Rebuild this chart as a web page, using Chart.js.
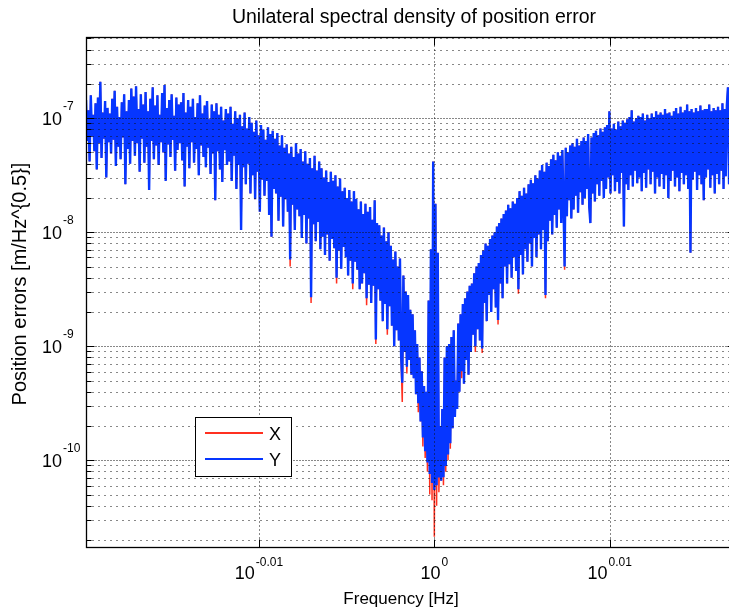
<!DOCTYPE html>
<html>
<head>
<meta charset="utf-8">
<title>Unilateral spectral density of position error</title>
<script src="https://cdn.jsdelivr.net/npm/chart.js@4.4.1/dist/chart.umd.min.js"></script>
<style>
    html, body { margin: 0; padding: 0; background: #fff; overflow: hidden; }
    #psd-chart { display: block; }
</style>
</head>
<body>
<canvas id="psd-chart" width="736" height="612"></canvas>
<script>
/* ── Spectrum bins [Hz] ── */
var freqHz = [
    0.95530, 0.95545, 0.95560, 0.95575, 0.95590, 0.95605, 0.95620, 0.95635, 0.95650, 0.95665,
    0.95680, 0.95695, 0.95710, 0.95725, 0.95740, 0.95755, 0.95770, 0.95785, 0.95800, 0.95815,
    0.95830, 0.95845, 0.95860, 0.95875, 0.95890, 0.95905, 0.95920, 0.95935, 0.95950, 0.95965,
    0.95980, 0.95995, 0.96010, 0.96025, 0.96040, 0.96055, 0.96070, 0.96085, 0.96100, 0.96115,
    0.96130, 0.96145, 0.96160, 0.96175, 0.96190, 0.96205, 0.96220, 0.96235, 0.96250, 0.96265,
    0.96280, 0.96295, 0.96310, 0.96325, 0.96340, 0.96355, 0.96370, 0.96385, 0.96400, 0.96415,
    0.96430, 0.96445, 0.96460, 0.96475, 0.96490, 0.96505, 0.96520, 0.96535, 0.96550, 0.96565,
    0.96580, 0.96595, 0.96610, 0.96625, 0.96640, 0.96655, 0.96670, 0.96685, 0.96700, 0.96715,
    0.96730, 0.96745, 0.96760, 0.96775, 0.96790, 0.96805, 0.96820, 0.96835, 0.96850, 0.96865,
    0.96880, 0.96895, 0.96910, 0.96925, 0.96940, 0.96955, 0.96970, 0.96985, 0.97000, 0.97015,
    0.97030, 0.97045, 0.97060, 0.97075, 0.97090, 0.97105, 0.97120, 0.97135, 0.97150, 0.97165,
    0.97180, 0.97195, 0.97210, 0.97225, 0.97240, 0.97255, 0.97270, 0.97285, 0.97300, 0.97315,
    0.97330, 0.97345, 0.97360, 0.97375, 0.97390, 0.97405, 0.97420, 0.97435, 0.97450, 0.97465,
    0.97480, 0.97495, 0.97510, 0.97525, 0.97540, 0.97555, 0.97570, 0.97585, 0.97600, 0.97615,
    0.97630, 0.97645, 0.97660, 0.97675, 0.97690, 0.97705, 0.97720, 0.97735, 0.97750, 0.97765,
    0.97780, 0.97795, 0.97810, 0.97825, 0.97840, 0.97855, 0.97870, 0.97885, 0.97900, 0.97915,
    0.97930, 0.97945, 0.97960, 0.97975, 0.97990, 0.98005, 0.98020, 0.98035, 0.98050, 0.98065,
    0.98080, 0.98095, 0.98110, 0.98125, 0.98140, 0.98155, 0.98170, 0.98185, 0.98200, 0.98215,
    0.98230, 0.98245, 0.98260, 0.98275, 0.98290, 0.98305, 0.98320, 0.98335, 0.98350, 0.98365,
    0.98380, 0.98395, 0.98410, 0.98425, 0.98440, 0.98455, 0.98470, 0.98485, 0.98500, 0.98515,
    0.98530, 0.98545, 0.98560, 0.98575, 0.98590, 0.98605, 0.98620, 0.98635, 0.98650, 0.98665,
    0.98680, 0.98695, 0.98710, 0.98725, 0.98740, 0.98755, 0.98770, 0.98785, 0.98800, 0.98815,
    0.98830, 0.98845, 0.98860, 0.98875, 0.98890, 0.98905, 0.98920, 0.98935, 0.98950, 0.98965,
    0.98980, 0.98995, 0.99010, 0.99025, 0.99040, 0.99055, 0.99070, 0.99085, 0.99100, 0.99115,
    0.99130, 0.99145, 0.99160, 0.99175, 0.99190, 0.99205, 0.99220, 0.99235, 0.99250, 0.99265,
    0.99280, 0.99295, 0.99310, 0.99325, 0.99340, 0.99355, 0.99370, 0.99385, 0.99400, 0.99415,
    0.99430, 0.99445, 0.99460, 0.99475, 0.99490, 0.99505, 0.99520, 0.99535, 0.99550, 0.99565,
    0.99580, 0.99595, 0.99610, 0.99625, 0.99640, 0.99655, 0.99670, 0.99685, 0.99700, 0.99715,
    0.99730, 0.99745, 0.99760, 0.99775, 0.99790, 0.99805, 0.99820, 0.99835, 0.99850, 0.99865,
    0.99880, 0.99895, 0.99910, 0.99925, 0.99940, 0.99955, 0.99970, 0.99985, 1.00000, 1.00015,
    1.00030, 1.00045, 1.00060, 1.00075, 1.00090, 1.00105, 1.00120, 1.00135, 1.00150, 1.00165,
    1.00180, 1.00195, 1.00210, 1.00225, 1.00240, 1.00255, 1.00270, 1.00285, 1.00300, 1.00315,
    1.00330, 1.00345, 1.00360, 1.00375, 1.00390, 1.00405, 1.00420, 1.00435, 1.00450, 1.00465,
    1.00480, 1.00495, 1.00510, 1.00525, 1.00540, 1.00555, 1.00570, 1.00585, 1.00600, 1.00615,
    1.00630, 1.00645, 1.00660, 1.00675, 1.00690, 1.00705, 1.00720, 1.00735, 1.00750, 1.00765,
    1.00780, 1.00795, 1.00810, 1.00825, 1.00840, 1.00855, 1.00870, 1.00885, 1.00900, 1.00915,
    1.00930, 1.00945, 1.00960, 1.00975, 1.00990, 1.01005, 1.01020, 1.01035, 1.01050, 1.01065,
    1.01080, 1.01095, 1.01110, 1.01125, 1.01140, 1.01155, 1.01170, 1.01185, 1.01200, 1.01215,
    1.01230, 1.01245, 1.01260, 1.01275, 1.01290, 1.01305, 1.01320, 1.01335, 1.01350, 1.01365,
    1.01380, 1.01395, 1.01410, 1.01425, 1.01440, 1.01455, 1.01470, 1.01485, 1.01500, 1.01515,
    1.01530, 1.01545, 1.01560, 1.01575, 1.01590, 1.01605, 1.01620, 1.01635, 1.01650, 1.01665,
    1.01680, 1.01695, 1.01710, 1.01725, 1.01740, 1.01755, 1.01770, 1.01785, 1.01800, 1.01815,
    1.01830, 1.01845, 1.01860, 1.01875, 1.01890, 1.01905, 1.01920, 1.01935, 1.01950, 1.01965,
    1.01980, 1.01995, 1.02010, 1.02025, 1.02040, 1.02055, 1.02070, 1.02085, 1.02100, 1.02115,
    1.02130, 1.02145, 1.02160, 1.02175, 1.02190, 1.02205, 1.02220, 1.02235, 1.02250, 1.02265,
    1.02280, 1.02295, 1.02310, 1.02325, 1.02340, 1.02355, 1.02370, 1.02385, 1.02400, 1.02415,
    1.02430, 1.02445, 1.02460, 1.02475, 1.02490, 1.02505, 1.02520, 1.02535, 1.02550, 1.02565,
    1.02580, 1.02595, 1.02610, 1.02625, 1.02640, 1.02655, 1.02670, 1.02685, 1.02700, 1.02715,
    1.02730, 1.02745, 1.02760, 1.02775, 1.02790, 1.02805, 1.02820, 1.02835, 1.02850, 1.02865,
    1.02880, 1.02895, 1.02910, 1.02925, 1.02940, 1.02955, 1.02970, 1.02985, 1.03000, 1.03015,
    1.03030, 1.03045, 1.03060, 1.03075, 1.03090, 1.03105, 1.03120, 1.03135, 1.03150, 1.03165,
    1.03180, 1.03195, 1.03210, 1.03225, 1.03240, 1.03255, 1.03270, 1.03285, 1.03300, 1.03315,
    1.03330, 1.03345, 1.03360, 1.03375, 1.03390, 1.03405, 1.03420, 1.03435, 1.03450, 1.03465,
    1.03480, 1.03495, 1.03510, 1.03525, 1.03540, 1.03555, 1.03570, 1.03585, 1.03600, 1.03615,
    1.03630, 1.03645, 1.03660, 1.03675, 1.03690, 1.03705, 1.03720, 1.03735, 1.03750, 1.03765,
    1.03780, 1.03795, 1.03810, 1.03825, 1.03840, 1.03855, 1.03870, 1.03885, 1.03900, 1.03915,
    1.03930, 1.03945, 1.03960, 1.03975, 1.03990, 1.04005, 1.04020, 1.04035
];

/* ── PSD levels, log10 of [m/Hz^0.5], one per bin ── */
var logPsdX = [
    -6.84, -7.20, -6.93, -7.38, -6.80, -7.16, -6.97, -7.29, -6.87, -7.45,
    -6.82, -7.22, -6.68, -7.35, -6.95, -7.18, -6.85, -7.52, -6.91, -7.21,
    -6.96, -7.31, -6.83, -7.19, -6.76, -7.42, -6.90, -7.25, -6.99, -7.36,
    -6.86, -7.17, -6.79, -7.58, -6.94, -7.27, -6.84, -7.40, -6.74, -7.20,
    -6.81, -7.33, -6.72, -7.22, -6.92, -7.47, -6.79, -7.18, -6.88, -7.39,
    -6.77, -7.25, -6.94, -7.63, -6.83, -7.20, -6.73, -7.36, -6.89, -7.24,
    -6.80, -7.41, -6.97, -7.21, -6.78, -7.30, -6.71, -7.55, -6.91, -7.23,
    -6.84, -7.34, -6.79, -7.19, -6.98, -7.46, -6.82, -7.28, -6.88, -7.22,
    -6.86, -7.37, -6.78, -7.60, -6.95, -7.25, -6.84, -7.44, -6.90, -7.21,
    -6.83, -7.39, -6.99, -7.27, -6.87, -7.50, -6.80, -7.24, -6.96, -7.34,
    -6.89, -7.43, -6.85, -7.26, -7.01, -7.49, -6.88, -7.31, -6.94, -7.72,
    -6.87, -7.29, -6.97, -7.45, -6.90, -7.56, -7.02, -7.28, -6.92, -7.41,
    -6.96, -7.38, -6.90, -7.55, -7.05, -7.33, -6.94, -7.62, -7.00, -7.41,
    -6.97, -7.98, -7.07, -7.43, -6.95, -7.58, -7.09, -7.40, -6.99, -7.66,
    -7.04, -7.50, -7.12, -7.71, -7.02, -7.47, -7.15, -7.82, -7.06, -7.54,
    -7.10, -7.68, -7.19, -7.55, -7.08, -7.85, -7.14, -8.04, -7.11, -7.62,
    -7.18, -7.66, -7.13, -7.90, -7.24, -7.69, -7.15, -7.95, -7.26, -7.71,
    -7.23, -7.82, -7.31, -8.30, -7.25, -7.76, -7.34, -7.98, -7.22, -7.80,
    -7.31, -7.86, -7.27, -8.05, -7.38, -7.85, -7.29, -8.10, -7.40, -7.88,
    -7.35, -8.62, -7.44, -7.93, -7.33, -8.08, -7.46, -7.91, -7.38, -8.15,
    -7.44, -8.04, -7.52, -8.20, -7.46, -8.02, -7.56, -8.25, -7.47, -8.06,
    -7.55, -8.14, -7.50, -8.45, -7.60, -8.16, -7.53, -8.32, -7.64, -8.13,
    -7.61, -8.22, -7.70, -8.38, -7.63, -8.25, -7.73, -8.50, -7.64, -8.26,
    -7.71, -8.33, -7.80, -8.50, -7.73, -8.45, -7.84, -8.36, -7.75, -8.64,
    -7.82, -8.46, -7.78, -8.62, -7.89, -8.47, -7.72, -8.98, -7.92, -8.50,
    -7.94, -8.60, -8.03, -8.78, -7.96, -8.63, -8.08, -8.90, -8.00, -8.65,
    -8.12, -8.82, -8.24, -9.00, -8.17, -8.86, -8.30, -8.95, -8.23, -9.13,
    -9.49, -8.38, -9.05, -8.52, -9.24, -8.55, -9.12, -8.68, -9.25, -8.72,
    -9.28, -8.86, -9.42, -8.98, -9.58, -9.10, -9.66, -9.22, -9.88, -9.35,
    -9.98, -9.40, -10.10, -8.60, -10.30, -8.15, -10.35, -7.38, -10.67, -7.75,
    -10.40, -8.18, -10.28, -9.70, -10.18, -9.55, -10.22, -9.10, -10.10, -9.00,
    -10.00, -8.98, -9.90, -8.92, -9.72, -8.86, -9.62, -9.30, -9.55, -8.80,
    -9.40, -8.72, -9.28, -8.63, -9.33, -8.58, -9.12, -8.52, -9.25, -8.47,
    -9.05, -8.45, -8.90, -8.36, -9.05, -8.30, -8.85, -8.27, -8.95, -8.20,
    -9.06, -8.16, -8.62, -8.10, -8.78, -8.12, -8.55, -8.06, -8.70, -8.03,
    -8.50, -8.00, -8.66, -7.95, -8.81, -7.92, -8.45, -7.88, -8.58, -7.84,
    -8.30, -7.81, -8.45, -7.76, -8.28, -7.79, -8.40, -7.73, -8.22, -7.75,
    -8.34, -7.70, -8.54, -7.64, -8.20, -7.68, -8.37, -7.61, -8.15, -7.66,
    -8.26, -7.58, -8.10, -7.54, -8.30, -7.57, -8.05, -7.50, -8.22, -7.53,
    -8.02, -7.46, -8.15, -7.41, -7.98, -7.47, -8.58, -7.39, -8.08, -7.42,
    -7.90, -7.36, -8.02, -7.32, -7.85, -7.37, -7.96, -7.30, -7.80, -7.33,
    -7.92, -7.28, -7.75, -8.33, -7.26, -7.86, -7.30, -7.72, -7.24, -7.88,
    -7.22, -7.80, -7.25, -7.68, -7.18, -7.83, -7.24, -7.65, -7.20, -7.76,
    -7.17, -7.70, -7.20, -7.62, -7.14, -7.78, -7.92, -7.17, -7.66, -7.13,
    -7.73, -7.11, -7.58, -7.15, -7.68, -7.09, -7.55, -7.12, -7.70, -7.08,
    -7.62, -7.06, -7.52, -6.94, -7.66, -7.09, -7.50, -7.05, -7.64, -7.10,
    -7.56, -7.03, -7.66, -7.07, -7.48, -7.02, -7.95, -7.04, -7.58, -7.01,
    -7.63, -6.99, -7.50, -6.93, -7.60, -7.03, -7.46, -7.00, -7.57, -6.98,
    -7.52, -6.99, -7.64, -6.96, -7.48, -7.02, -7.61, -6.97, -7.45, -7.00,
    -7.58, -6.96, -7.47, -6.99, -7.66, -6.94, -7.52, -6.97, -7.60, -6.95,
    -7.49, -6.97, -7.62, -6.92, -7.50, -6.96, -7.70, -6.95, -7.55, -6.98,
    -7.46, -6.94, -7.60, -6.91, -7.52, -6.96, -7.64, -6.90, -7.48, -6.95,
    -7.58, -6.93, -7.50, -6.88, -7.62, -6.94, -8.18, -6.92, -7.54, -6.95,
    -7.47, -6.91, -7.63, -6.94, -7.50, -6.89, -7.58, -6.93, -7.72, -6.92,
    -7.52, -6.92, -7.45, -6.88, -7.61, -6.94, -7.50, -6.91, -7.66, -6.93,
    -7.49, -6.90, -7.58, -6.93, -7.46, -6.87, -7.62, -6.92, -7.51, -6.89,
    -6.73, -7.58, -6.91, -7.48, -6.89, -7.60, -6.90, -7.52
];

var logPsdY = [
    -6.84, -7.20, -6.93, -7.38, -6.80, -7.16, -6.97, -7.29, -6.87, -7.45,
    -6.82, -7.22, -6.68, -7.35, -6.95, -7.18, -6.85, -7.52, -6.91, -7.21,
    -6.96, -7.31, -6.83, -7.19, -6.76, -7.42, -6.90, -7.25, -6.99, -7.36,
    -6.86, -7.17, -6.79, -7.58, -6.94, -7.27, -6.84, -7.40, -6.74, -7.20,
    -6.81, -7.33, -6.72, -7.22, -6.92, -7.47, -6.79, -7.18, -6.88, -7.39,
    -6.77, -7.25, -6.94, -7.63, -6.83, -7.20, -6.73, -7.36, -6.89, -7.24,
    -6.80, -7.41, -6.97, -7.21, -6.78, -7.30, -6.71, -7.55, -6.91, -7.23,
    -6.84, -7.34, -6.79, -7.19, -6.98, -7.46, -6.82, -7.28, -6.88, -7.22,
    -6.86, -7.37, -6.78, -7.60, -6.95, -7.25, -6.84, -7.44, -6.90, -7.21,
    -6.83, -7.39, -6.99, -7.27, -6.87, -7.50, -6.80, -7.24, -6.96, -7.34,
    -6.89, -7.43, -6.85, -7.26, -7.01, -7.49, -6.88, -7.31, -6.94, -7.72,
    -6.87, -7.29, -6.97, -7.45, -6.90, -7.56, -7.02, -7.28, -6.92, -7.41,
    -6.96, -7.38, -6.90, -7.55, -7.05, -7.33, -6.94, -7.62, -7.00, -7.41,
    -6.97, -7.98, -7.07, -7.43, -6.95, -7.58, -7.09, -7.40, -6.99, -7.66,
    -7.04, -7.50, -7.12, -7.71, -7.02, -7.47, -7.15, -7.82, -7.06, -7.54,
    -7.10, -7.68, -7.19, -7.55, -7.08, -7.85, -7.14, -8.04, -7.11, -7.62,
    -7.18, -7.66, -7.13, -7.90, -7.24, -7.69, -7.15, -7.95, -7.26, -7.71,
    -7.23, -7.82, -7.31, -8.24, -7.25, -7.76, -7.34, -7.98, -7.22, -7.80,
    -7.31, -7.86, -7.27, -8.05, -7.38, -7.85, -7.29, -8.10, -7.40, -7.88,
    -7.35, -8.57, -7.44, -7.93, -7.33, -8.08, -7.46, -7.91, -7.38, -8.15,
    -7.44, -8.04, -7.52, -8.20, -7.46, -8.02, -7.56, -8.25, -7.47, -8.06,
    -7.55, -8.14, -7.50, -8.40, -7.60, -8.16, -7.53, -8.32, -7.64, -8.13,
    -7.61, -8.22, -7.70, -8.38, -7.63, -8.25, -7.73, -8.45, -7.64, -8.26,
    -7.71, -8.33, -7.80, -8.50, -7.73, -8.45, -7.84, -8.36, -7.75, -8.58,
    -7.82, -8.46, -7.78, -8.62, -7.89, -8.47, -7.72, -8.94, -7.92, -8.50,
    -7.94, -8.60, -8.03, -8.78, -7.96, -8.63, -8.08, -8.85, -8.00, -8.65,
    -8.12, -8.82, -8.24, -9.00, -8.17, -8.86, -8.30, -8.95, -8.23, -9.08,
    -9.32, -8.38, -9.05, -8.52, -9.18, -8.55, -9.12, -8.68, -9.25, -8.72,
    -9.28, -8.86, -9.42, -8.98, -9.50, -9.10, -9.66, -9.22, -9.80, -9.35,
    -9.92, -9.40, -10.02, -8.60, -10.12, -8.15, -10.20, -7.38, -10.26, -7.75,
    -10.22, -8.18, -10.15, -9.70, -10.18, -9.55, -10.15, -9.10, -10.05, -9.00,
    -9.95, -8.98, -9.85, -8.92, -9.72, -8.86, -9.62, -9.30, -9.55, -8.80,
    -9.40, -8.72, -9.22, -8.63, -9.33, -8.58, -9.12, -8.52, -9.25, -8.47,
    -9.05, -8.45, -8.90, -8.36, -9.00, -8.30, -8.85, -8.27, -8.95, -8.20,
    -9.02, -8.16, -8.62, -8.10, -8.78, -8.12, -8.55, -8.06, -8.70, -8.03,
    -8.50, -8.00, -8.66, -7.95, -8.77, -7.92, -8.45, -7.88, -8.58, -7.84,
    -8.30, -7.81, -8.45, -7.76, -8.28, -7.79, -8.40, -7.73, -8.22, -7.75,
    -8.34, -7.70, -8.50, -7.64, -8.20, -7.68, -8.37, -7.61, -8.15, -7.66,
    -8.26, -7.58, -8.10, -7.54, -8.30, -7.57, -8.05, -7.50, -8.22, -7.53,
    -8.02, -7.46, -8.15, -7.41, -7.98, -7.47, -8.55, -7.39, -8.08, -7.42,
    -7.90, -7.36, -8.02, -7.32, -7.85, -7.37, -7.96, -7.30, -7.80, -7.33,
    -7.92, -7.28, -7.75, -8.30, -7.26, -7.86, -7.30, -7.72, -7.24, -7.88,
    -7.22, -7.80, -7.25, -7.68, -7.18, -7.83, -7.24, -7.65, -7.20, -7.76,
    -7.17, -7.70, -7.20, -7.62, -7.14, -7.78, -7.92, -7.17, -7.66, -7.13,
    -7.73, -7.11, -7.58, -7.15, -7.68, -7.09, -7.55, -7.12, -7.70, -7.08,
    -7.62, -7.06, -7.52, -6.94, -7.66, -7.09, -7.50, -7.05, -7.64, -7.10,
    -7.56, -7.03, -7.66, -7.07, -7.48, -7.02, -7.95, -7.04, -7.58, -7.01,
    -7.63, -6.99, -7.50, -6.93, -7.60, -7.03, -7.46, -7.00, -7.57, -6.98,
    -7.52, -6.99, -7.64, -6.96, -7.48, -7.02, -7.61, -6.97, -7.45, -7.00,
    -7.58, -6.96, -7.47, -6.99, -7.66, -6.94, -7.52, -6.97, -7.60, -6.95,
    -7.49, -6.97, -7.62, -6.92, -7.50, -6.96, -7.70, -6.95, -7.55, -6.98,
    -7.46, -6.94, -7.60, -6.91, -7.52, -6.96, -7.64, -6.90, -7.48, -6.95,
    -7.58, -6.93, -7.50, -6.88, -7.62, -6.94, -8.18, -6.92, -7.54, -6.95,
    -7.47, -6.91, -7.63, -6.94, -7.50, -6.89, -7.58, -6.93, -7.72, -6.92,
    -7.52, -6.92, -7.45, -6.88, -7.61, -6.94, -7.50, -6.91, -7.66, -6.93,
    -7.49, -6.90, -7.58, -6.93, -7.46, -6.87, -7.62, -6.92, -7.51, -6.89,
    -6.73, -7.58, -6.91, -7.48, -6.89, -7.60, -6.90, -7.52
];

/* ── Axes setup ── */
var xRange = [0.9553, 1.0404];
var yRange = [1.7e-11, 5.15e-7];
var xTickExps = ['-0.01', '0', '0.01'];
var yTickExps = ['-10', '-9', '-8', '-7'];
var yGridDecades = [-11, -10, -9, -8, -7];
var seriesNames = ['X', 'Y'];
var seriesColors = ['#ff3020', '#0636ff'];
var seriesWidths = [1.5, 2.4];

var FONT = '"Liberation Sans", Arial, sans-serif';

function toPoints(logVals) {
    return freqHz.map(function (f, i) {
        return { x: f, y: Math.pow(10, logVals[i]) };
    });
}

function strokeLine(ctx, x1, y1, x2, y2) {
    ctx.beginPath();
    ctx.moveTo(x1, y1);
    ctx.lineTo(x2, y2);
    ctx.stroke();
}

// "10" with a raised exponent; anchor is the centre of the whole label or the right edge of "10"
function drawPower(ctx, exp, x, baseY, expY, align) {
    ctx.font = '18px ' + FONT;
    var wBase = ctx.measureText('10').width;
    ctx.font = '12px ' + FONT;
    var wExp = ctx.measureText(exp).width;
    var left = align === 'center' ? x - (wBase + wExp + 1) / 2 : x - wBase;
    ctx.textAlign = 'left';
    ctx.font = '18px ' + FONT;
    ctx.fillText('10', left, baseY);
    ctx.font = '12px ' + FONT;
    ctx.fillText(exp, left + wBase + 1, expY);
}

/* ================================================================
    FRAME PLUGIN: dotted grid, boxed axes, ticks, labels, legend
================================================================ */
var matlabFrame = {
    id: 'matlabFrame',
    afterDatasetsDraw: function (chart) {
        var ctx = chart.ctx;
        var a = chart.chartArea;
        var xs = chart.scales.x, ys = chart.scales.y;
        var left = Math.round(a.left) + 0.5, right = Math.round(a.right) - 0.5;
        var top = Math.round(a.top) + 0.5, bottom = Math.round(a.bottom) - 0.5;

        ctx.save();

        // dotted grid, drawn over the traces
        ctx.lineWidth = 1;
        ctx.strokeStyle = '#111';
        yGridDecades.forEach(function (e) {
            for (var m = 1; m <= 9; m++) {
                var v = m * Math.pow(10, e);
                if (v < yRange[0] || v > yRange[1]) continue;
                var py = Math.round(ys.getPixelForValue(v)) + 0.5;
                ctx.setLineDash(m === 1 ? [1, 2] : [1, 5]);
                strokeLine(ctx, left, py, right, py);
            }
        });
        ctx.setLineDash([1, 3]);
        xTickExps.forEach(function (e) {
            var px = Math.round(xs.getPixelForValue(Math.pow(10, parseFloat(e)))) + 0.5;
            strokeLine(ctx, px, top, px, bottom);
        });
        ctx.setLineDash([]);

        // tick marks on all four sides
        ctx.strokeStyle = '#000';
        yGridDecades.forEach(function (e) {
            for (var m = 1; m <= 9; m++) {
                var v = m * Math.pow(10, e);
                if (v < yRange[0] || v > yRange[1]) continue;
                var py = Math.round(ys.getPixelForValue(v)) + 0.5;
                var len = m === 1 ? 8 : 5;
                strokeLine(ctx, left, py, left + len, py);
                strokeLine(ctx, right, py, right - len, py);
            }
        });
        xTickExps.forEach(function (e) {
            var px = Math.round(xs.getPixelForValue(Math.pow(10, parseFloat(e)))) + 0.5;
            strokeLine(ctx, px, bottom, px, bottom - 8);
            strokeLine(ctx, px, top, px, top + 8);
        });

        // axes box
        ctx.lineWidth = 1.3;
        ctx.strokeRect(left, top, right - left, bottom - top);

        // tick labels
        ctx.fillStyle = '#000';
        ctx.textBaseline = 'alphabetic';
        xTickExps.forEach(function (e) {
            var px = xs.getPixelForValue(Math.pow(10, parseFloat(e)));
            drawPower(ctx, e, px, 579, 566, 'center');
        });
        yTickExps.forEach(function (e) {
            var py = ys.getPixelForValue(Math.pow(10, parseFloat(e)));
            drawPower(ctx, e, 62, py + 6.5, py - 8, 'right');
        });

        // title and axis labels
        ctx.textAlign = 'center';
        ctx.font = '19.5px ' + FONT;
        ctx.fillText('Unilateral spectral density of position error', 414, 23);
        ctx.font = '17px ' + FONT;
        ctx.fillText('Frequency [Hz]', 401, 604);
        ctx.save();
        ctx.translate(26, 284);
        ctx.rotate(-Math.PI / 2);
        ctx.font = '20px ' + FONT;
        ctx.fillText('Position errors [m/Hz^{0.5}]', 0, 0);
        ctx.restore();

        // legend box
        ctx.fillStyle = '#fff';
        ctx.fillRect(195.5, 417.5, 96, 59);
        ctx.lineWidth = 1;
        ctx.strokeStyle = '#000';
        ctx.strokeRect(195.5, 417.5, 96, 59);
        var rows = [433, 459];
        seriesNames.forEach(function (name, i) {
            ctx.strokeStyle = chart.data.datasets[i].borderColor;
            ctx.lineWidth = 2;
            strokeLine(ctx, 205, rows[i], 263, rows[i]);
            ctx.fillStyle = '#000';
            ctx.font = '18px ' + FONT;
            ctx.textAlign = 'left';
            ctx.fillText(name, 269, rows[i] + 7);
        });

        ctx.restore();
    }
};

/* ================================================================
    CHART
================================================================ */
var psdChart = new Chart(document.getElementById('psd-chart'), {
    type: 'line',
    data: {
        datasets: [
            { label: seriesNames[0], data: toPoints(logPsdX), borderColor: seriesColors[0], borderWidth: seriesWidths[0], order: 1 },
            { label: seriesNames[1], data: toPoints(logPsdY), borderColor: seriesColors[1], borderWidth: seriesWidths[1], order: 0 }
        ]
    },
    options: {
        responsive: false,
        animation: false,
        events: [],
        layout: { padding: { top: 37, left: 0, right: 0, bottom: 0 } },
        elements: {
            point: { radius: 0 },
            line: { tension: 0 }
        },
        plugins: {
            legend: { display: false },
            title: { display: false },
            tooltip: { enabled: false }
        },
        scales: {
            x: {
                type: 'logarithmic',
                min: xRange[0],
                max: xRange[1],
                grid: { display: false },
                border: { display: false },
                ticks: { display: false },
                afterFit: function (scale) { scale.height = 64; }
            },
            y: {
                type: 'logarithmic',
                min: yRange[0],
                max: yRange[1],
                grid: { display: false },
                border: { display: false },
                ticks: { display: false },
                afterFit: function (scale) { scale.width = 86; }
            }
        }
    },
    plugins: [matlabFrame]
});
</script>
</body>
</html>
